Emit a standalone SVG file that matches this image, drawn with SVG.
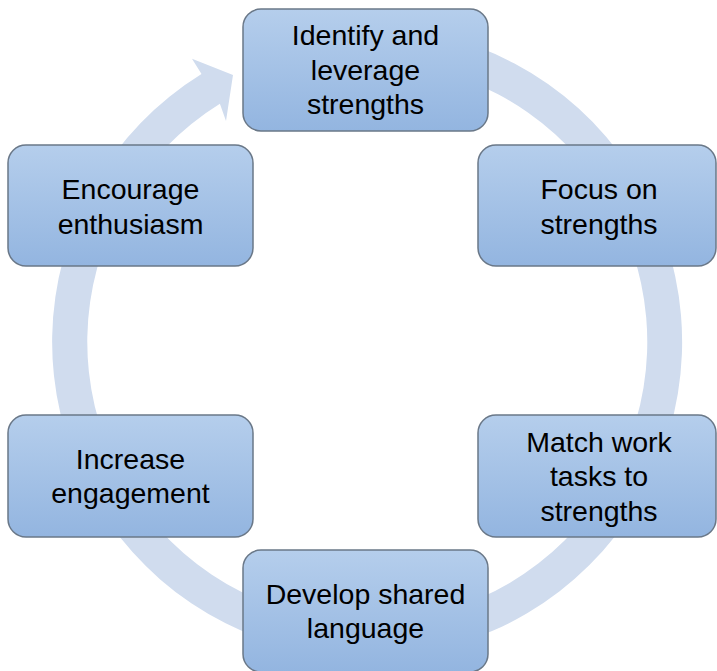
<svg xmlns="http://www.w3.org/2000/svg" width="717" height="671" viewBox="0 0 717 671">
<defs>
<linearGradient id="boxGrad" x1="0" y1="0" x2="0" y2="1">
<stop offset="0" stop-color="#B5CEEC"/>
<stop offset="1" stop-color="#93B5E0"/>
</linearGradient>
<style>
.box{fill:url(#boxGrad);stroke:#6A7888;stroke-width:1.5}
.lbl{font-family:"Liberation Sans",Arial,sans-serif;font-size:28.5px;fill:#000;text-anchor:middle}
.ring{fill:#D0DCEE}
</style>
</defs>
<rect width="717" height="671" fill="#FFFFFF"/>
<g id="connectors">
<path class="ring" d="M 285.5 37.7 A 315 315 0 1 1 201.5 74 L 192 58.7 L 233 75 L 226 121 L 219.9 103.8 A 280 280 0 1 0 294.5 71.5 Z"/>
</g>
<g id="node1">
<rect class="box" x="243" y="9" width="245" height="122" rx="18"/>
<text class="lbl" x="365.5" y="45">Identify and</text>
<text class="lbl" x="365.5" y="79.5">leverage</text>
<text class="lbl" x="365.5" y="114">strengths</text>
</g>
<g id="node2">
<rect class="box" x="478" y="145" width="238" height="121" rx="18"/>
<text class="lbl" x="599" y="199">Focus on</text>
<text class="lbl" x="599" y="233.5">strengths</text>
</g>
<g id="node3">
<rect class="box" x="478" y="415" width="238" height="122" rx="18"/>
<text class="lbl" x="599" y="451.5">Match work</text>
<text class="lbl" x="599" y="486">tasks to</text>
<text class="lbl" x="599" y="520.5">strengths</text>
</g>
<g id="node4">
<rect class="box" x="243" y="550" width="245" height="122" rx="18"/>
<text class="lbl" x="365.5" y="603.5">Develop shared</text>
<text class="lbl" x="365.5" y="638">language</text>
</g>
<g id="node5">
<rect class="box" x="8" y="415" width="245" height="122" rx="18"/>
<text class="lbl" x="130.5" y="468.5">Increase</text>
<text class="lbl" x="130.5" y="503">engagement</text>
</g>
<g id="node6">
<rect class="box" x="8" y="145" width="245" height="121" rx="18"/>
<text class="lbl" x="130.5" y="199">Encourage</text>
<text class="lbl" x="130.5" y="233.5">enthusiasm</text>
</g>
</svg>
